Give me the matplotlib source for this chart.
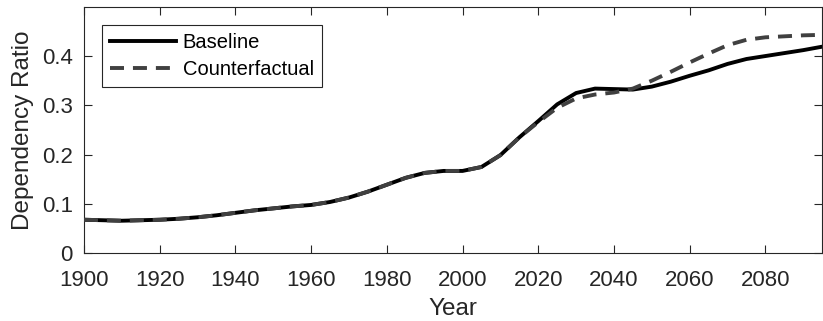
import matplotlib
matplotlib.use("Agg")
import matplotlib.pyplot as plt
import numpy as np

# Dependency ratio at 5-year steps
years = list(range(1900, 2100, 5))
baseline = [0.068, 0.067, 0.066, 0.067, 0.068, 0.070, 0.073, 0.077, 0.082, 0.087,
            0.091, 0.095, 0.098, 0.104, 0.113, 0.125, 0.139, 0.153, 0.163, 0.167,
            0.167, 0.175, 0.199, 0.235, 0.268, 0.302, 0.325, 0.334, 0.333, 0.332,
            0.338, 0.348, 0.360, 0.371, 0.384, 0.394, 0.400, 0.406, 0.412, 0.419]
counterfactual = [0.068, 0.067, 0.066, 0.067, 0.068, 0.070, 0.073, 0.077, 0.082, 0.087,
                  0.091, 0.095, 0.098, 0.104, 0.113, 0.125, 0.139, 0.153, 0.163, 0.167,
                  0.167, 0.175, 0.199, 0.235, 0.266, 0.295, 0.314, 0.322, 0.326, 0.334,
                  0.350, 0.368, 0.387, 0.405, 0.422, 0.433, 0.438, 0.440, 0.442, 0.443]
xticks = list(range(1900, 2100, 20))
yticks = [0, 0.1, 0.2, 0.3, 0.4]

plt.rcParams['font.family'] = ['Liberation Sans', 'DejaVu Sans']
ink = '#262626'

fig = plt.figure(figsize=(8.23, 3.21), dpi=100)
ax = fig.add_axes([0.102, 0.211, 0.897, 0.768])

ax.plot(years, baseline, color='black', lw=2.8, label='Baseline', zorder=2)
ax.plot(years, counterfactual, color='#404040', lw=2.8, ls=(0, (3.6, 2.3)),
        label='Counterfactual', zorder=3)

ax.set_xlim(1900, 2095)
ax.set_ylim(0, 0.5)
ax.set_xticks(xticks)
ax.set_yticks(yticks)
ax.set_yticklabels(['0', '0.1', '0.2', '0.3', '0.4'])
ax.tick_params(direction='in', length=6, width=0.8, top=True, right=True,
               labelsize=16, colors=ink)
ax.tick_params(axis='x', pad=12)
ax.tick_params(axis='y', pad=8)
for s in ax.spines.values():
    s.set_color(ink)
    s.set_linewidth(0.8)

ax.set_xlabel('Year', fontsize=17.5, color=ink, labelpad=5)
ax.set_ylabel('Dependency Ratio', fontsize=17.5, color=ink, labelpad=6)

leg = ax.legend(loc='upper left', bbox_to_anchor=(0.024, 0.926), fontsize=14.5,
                handlelength=3.3, handletextpad=0.33, borderpad=0.4,
                labelspacing=0.4, fancybox=False, framealpha=1, borderaxespad=0)
leg.get_frame().set_edgecolor(ink)
leg.get_frame().set_linewidth(0.8)

fig.savefig('out.png', dpi=100)
